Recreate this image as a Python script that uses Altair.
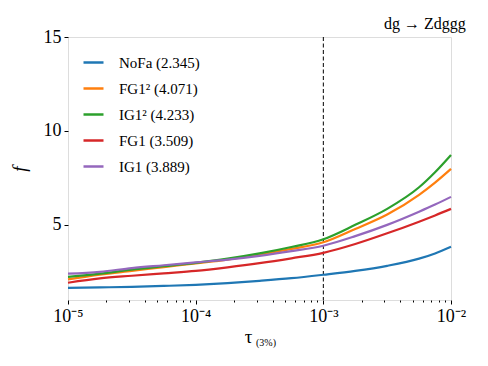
import altair as alt
import pandas as pd

# log10(tau) positions at which values were read
tau_exp = [-5, -4.75, -4.5, -4.25, -4, -3.75, -3.5, -3.25, -3, -2.75, -2.5, -2.25, -2.125, -2]

series_names = ["NoFa", "FG1²", "IG1²", "FG1", "IG1"]
series_at_1e3 = ["2.345", "4.071", "4.233", "3.509", "3.889"]
colors = ["#1f77b4", "#ff7f0e", "#2ca02c", "#d62728", "#9467bd"]

f_nofa = [1.65, 1.67, 1.70, 1.75, 1.81, 1.90, 2.02, 2.16, 2.345, 2.55, 2.82, 3.20, 3.48, 3.83]
f_fg1sq = [2.10, 2.35, 2.55, 2.75, 2.95, 3.15, 3.42, 3.72, 4.071, 4.78, 5.55, 6.60, 7.25, 7.98]
f_ig1sq = [2.23, 2.40, 2.62, 2.80, 2.98, 3.20, 3.48, 3.82, 4.233, 5.00, 5.85, 7.00, 7.80, 8.72]
f_fg1 = [1.92, 2.15, 2.29, 2.42, 2.55, 2.74, 2.96, 3.22, 3.509, 3.98, 4.55, 5.17, 5.50, 5.85]
f_ig1 = [2.40, 2.50, 2.70, 2.85, 3.00, 3.15, 3.35, 3.60, 3.889, 4.40, 5.00, 5.70, 6.08, 6.49]

all_series = [f_nofa, f_fg1sq, f_ig1sq, f_fg1, f_ig1]
labels = [f"{n} ({v})" for n, v in zip(series_names, series_at_1e3)]

rows = []
for lab, vals in zip(labels, all_series):
    for e, v in zip(tau_exp, vals):
        rows.append({"tau": 10 ** e, "f": v, "series": lab})
df = pd.DataFrame(rows)

x_major = [1e-5, 1e-4, 1e-3, 1e-2]
x_minor = [m * 10 ** d for d in (-5, -4, -3) for m in range(2, 10)]
vline = pd.DataFrame({"tau": [1e-3]})

FONT = "Liberation Serif"
W, H = 383, 263

xscale = alt.Scale(type="log", domain=[1e-5, 1e-2], nice=False)
yscale = alt.Scale(domain=[1, 15], nice=False, zero=False)

lines = alt.Chart(df).mark_line(strokeWidth=2.2, interpolate="monotone").encode(
    x=alt.X("tau:Q", scale=xscale,
            axis=alt.Axis(orient="bottom", values=x_major, title="τ", titleFont=FONT,
                          titleFontSize=19, titleColor="black",
                          titleFontWeight="normal", titleX=180, titleY=42,
                          titleBaseline="alphabetic",
                          labelExpr="'10' + (datum.value < 0.00005 ? '⁻⁵' : datum.value < 0.0005 ? '⁻⁴' : datum.value < 0.005 ? '⁻³' : '⁻²')",
                          labelFont=FONT, labelFontSize=18, labelColor="black",
                          tickColor="black", tickSize=4, domain=False, grid=False,
                          labelPadding=3, labelFlush=False)),
    y=alt.Y("f:Q", scale=yscale,
            axis=alt.Axis(values=[5, 10, 15], title="f", titleFont=FONT, titleFontStyle="italic",
                          titleFontSize=19, titleFontWeight="normal", titleColor="black",
                          titlePadding=14,
                          labelFont=FONT, labelFontSize=18, labelColor="black",
                          tickColor="black", tickSize=4, domain=False, grid=False,
                          labelPadding=3)),
    color=alt.Color("series:N", scale=alt.Scale(domain=labels, range=colors),
                    sort=labels,
                    legend=alt.Legend(title=None, orient="none", legendX=14, legendY=14,
                                      symbolType="stroke", symbolSize=400,
                                      symbolStrokeWidth=2.5, labelFont=FONT,
                                      labelFontSize=15, labelColor="black",
                                      labelOffset=14, rowPadding=6, padding=0)),
)

minor = alt.Chart(pd.DataFrame({"tau": x_minor})).mark_point(opacity=0).encode(
    x=alt.X("tau:Q", scale=xscale,
            axis=alt.Axis(orient="bottom", values=x_minor, labels=False, title=None,
                          tickColor="black", tickSize=2, domain=False, grid=False)),
)

rule = alt.Chart(vline).mark_rule(color="black", strokeDash=[4, 2.5], strokeWidth=1).encode(
    x=alt.X("tau:Q", scale=xscale, axis=None)
)

sub = alt.Chart(pd.DataFrame({"t": ["(3%)"]})).mark_text(
    font=FONT, fontSize=10, align="left", baseline="alphabetic", color="black"
).encode(x=alt.value(188), y=alt.value(309), text="t:N")

chart = alt.layer(rule, lines, minor, sub).resolve_axis(x="independent").properties(
    width=W, height=H,
    autosize="none",
    padding={"left": 60, "top": 29, "right": 29, "bottom": 58},
    title=alt.TitleParams("dg → Zdggg", anchor="end", font=FONT, fontSize=16,
                          fontWeight="normal", color="black", offset=-4),
).configure_view(stroke="black", strokeWidth=1.2).configure_axis(
    grid=False, labelFont=FONT, titleFont=FONT
).configure(background="white")

chart.save("out.html", embed_options={"renderer": "svg", "actions": False})
